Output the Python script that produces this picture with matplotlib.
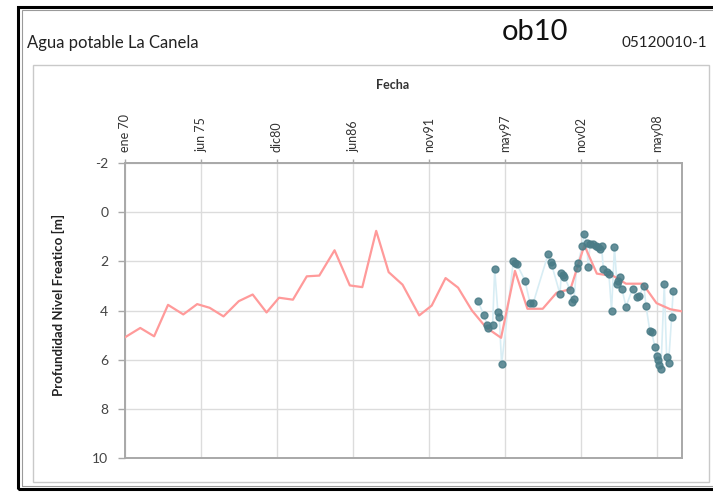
import matplotlib
matplotlib.use("Agg")
import matplotlib.pyplot as plt
from matplotlib.patches import Rectangle
import numpy as np

plt.rcParams['font.family'] = ['Lato', 'DejaVu Sans']
plt.rcParams['axes.unicode_minus'] = False

# Annual mean water-table depth (m)
trend_years = [1970.0, 1971.1, 1972.1, 1973.1, 1974.2, 1975.2, 1976.1, 1977.1,
               1978.2, 1979.2, 1980.2, 1981.1, 1982.1, 1983.1, 1984.0, 1985.1,
               1986.2, 1987.1, 1988.1, 1989.0, 1990.0, 1991.2, 1992.1, 1993.1,
               1994.0, 1995.0, 1996.0, 1997.1, 1998.1, 1999.0, 2000.1, 2001.1,
               2002.1, 2003.1, 2004.0, 2005.2, 2006.1, 2007.3, 2008.3, 2009.3,
               2010.1]
trend_depth = [5.09, 4.71, 5.05, 3.77, 4.16, 3.74, 3.89, 4.24,
               3.62, 3.35, 4.08, 3.48, 3.56, 2.61, 2.58, 1.55,
               2.98, 3.05, 0.76, 2.44, 2.95, 4.20, 3.80, 2.68,
               3.07, 4.00, 4.68, 5.11, 2.39, 3.93, 3.93, 3.28,
               3.13, 1.35, 2.50, 2.60, 2.91, 2.91, 3.70, 3.95,
               4.03]

# Individual well measurements (m)
obs_years = [1995.45, 1995.86, 1996.10, 1996.17, 1996.49, 1996.64, 1996.87, 1996.97,
             1997.14, 1997.98, 1998.12, 1998.24, 1998.82, 1999.18, 1999.42, 2000.50,
             2000.67, 2000.74, 2001.34, 2001.45, 2001.56, 2001.66, 2002.06, 2002.20,
             2002.35, 2002.54, 2002.66, 2002.95, 2003.07, 2003.26, 2003.39, 2003.50,
             2003.74, 2003.91, 2004.10, 2004.22, 2004.34, 2004.47, 2004.70, 2004.87,
             2005.06, 2005.27, 2005.45, 2005.56, 2005.66, 2005.81, 2006.10, 2006.58,
             2006.92, 2007.03, 2007.39, 2007.54, 2007.82, 2007.95, 2008.18, 2008.31,
             2008.40, 2008.49, 2008.62, 2008.86, 2009.03, 2009.17, 2009.39, 2009.50]
obs_depth = [3.63, 4.20, 4.58, 4.72, 4.61, 2.33, 4.07, 4.27,
             6.18, 2.00, 2.05, 2.12, 2.78, 3.69, 3.69, 1.69,
             2.03, 2.13, 3.32, 2.48, 2.55, 2.62, 3.15, 3.66,
             3.54, 2.28, 2.05, 1.36, 0.87, 1.25, 2.25, 1.29,
             1.30, 1.36, 1.43, 1.50, 1.39, 2.31, 2.45, 2.52,
             4.00, 1.43, 2.91, 2.78, 2.62, 3.13, 3.84, 3.11,
             3.46, 3.42, 3.00, 3.80, 4.83, 4.89, 5.47, 5.86,
             6.03, 6.20, 6.36, 2.93, 5.88, 6.13, 4.27, 3.21]

# Date axis: days since 1 Jan 1970, one label every 2000 days
tick_days = [0, 2000, 4000, 6000, 8000, 10000, 12000, 14000]
tick_labels = ["ene 70", "jun 75", "dic80", "jun86", "nov91", "may97", "nov02", "may08"]
y_ticks = [-2, 0, 2, 4, 6, 8, 10]


def to_days(years):
    return (np.asarray(years, dtype=float) - 1970.0) * 365.25


W, H = 713, 492
fig = plt.figure(figsize=(W / 100, H / 100), dpi=100)
fig.patch.set_facecolor('white')


def px_rect(x0, y0, x1, y1, **kw):
    return Rectangle((x0 / W, 1 - y1 / H), (x1 - x0) / W, (y1 - y0) / H,
                     transform=fig.transFigure, fill=False, **kw)


# outer sheet frame and inner chart-area box
fig.add_artist(px_rect(18, 7, 760, 489, edgecolor='black', linewidth=2.2))
fig.add_artist(px_rect(22, 10, 760, 486, edgecolor='#9a9a9a', linewidth=0.8))
fig.add_artist(px_rect(33, 65, 709, 482, edgecolor='#c9c9c9', linewidth=1.0))

# header
fig.text(27 / W, 1 - 43 / H, "Agua potable La Canela", ha='left', va='center',
         fontsize=12, color='#222222')
fig.text(535 / W, 1 - 32 / H, "ob10", ha='center', va='center',
         fontsize=21, color='#111111')
fig.text(622 / W, 1 - 43 / H, "05120010-1", ha='left', va='center',
         fontsize=11, color='#222222')

ax = fig.add_axes([125 / W, 1 - 458 / H, (682 - 125) / W, (458 - 163) / H])

ax.plot(to_days(obs_years), obs_depth, color='#d8edf4', linewidth=1.2, zorder=2)
ax.plot(to_days(trend_years), trend_depth, color='#ff9a9a', linewidth=1.6, zorder=3)
ax.plot(to_days(obs_years), obs_depth, linestyle='none', marker='o', markersize=5,
        markerfacecolor='#4a7c87', markeredgecolor='#4a7c87', alpha=0.85, zorder=4)

ax.set_xlim(0, 14660)
ax.set_ylim(10, -2)
ax.set_yticks(y_ticks)
ax.set_xticks(tick_days)
ax.set_xticklabels(tick_labels, rotation=90)
ax.xaxis.tick_top()

ax.grid(True, color='#dcdcdc', linewidth=1.0)
ax.set_axisbelow(True)
for s in ax.spines.values():
    s.set_color('#a8a8a8')
    s.set_linewidth(1.4)

ax.tick_params(axis='x', which='major', top=True, bottom=False, length=3,
               width=1, color='#a8a8a8', pad=5, labelsize=9, labelcolor='#333333')
ax.tick_params(axis='y', which='major', length=5, width=1, color='#a8a8a8',
               pad=7, labelsize=10, labelcolor='#444444')

ax.set_xlabel("Fecha", fontsize=9, fontweight='bold', color='#333333')
ax.xaxis.set_label_position('top')
ax.xaxis.set_label_coords((393 - 125) / 557, (458 - 85) / 295)
ax.xaxis.label.set_va('center')

ax.set_ylabel("Profundidad Nivel Freatico [m]", fontsize=9.5, fontweight='bold',
              color='#222222')
ax.yaxis.set_label_coords((58 - 125) / 557, (458 - 305) / 295)
ax.yaxis.label.set_va('center')

fig.savefig("out.png", dpi=100)
